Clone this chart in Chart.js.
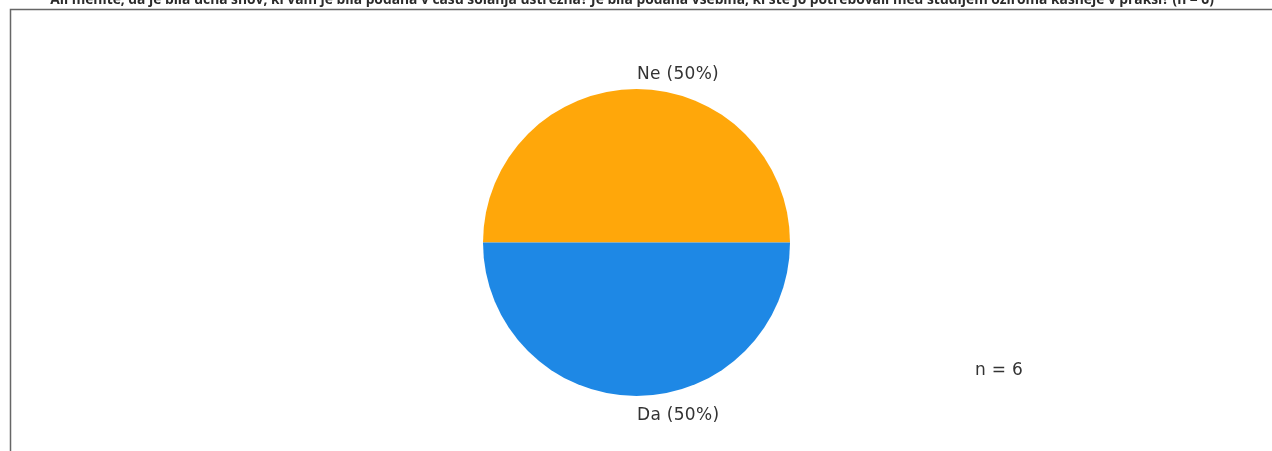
<!DOCTYPE html>
<html>
<head>
<meta charset="utf-8">
<script src="https://cdn.jsdelivr.net/npm/chart.js@4/dist/chart.umd.min.js"></script>
<style>
  html, body { margin: 0; padding: 0; background: #ffffff; }
  #wrap { position: relative; width: 1272px; height: 451px; }
</style>
</head>
<body>
<div id="wrap"><canvas id="c" width="1272" height="451"></canvas></div>
<script>
// Survey answers and their counts
const categories = ['Ne', 'Da'];
const counts = [3, 3];
const colors = ['#FFA70A', '#1E88E5'];
const respondents = 6;
const titleText = 'Ali menite, da je bila učna snov, ki vam je bila podana v času šolanja ustrezna? Je bila podana vsebina, ki ste jo potrebovali med študijem oziroma kasneje v praksi? (n = ' + respondents + ')';

const total = counts.reduce((a, b) => a + b, 0);
const sliceLabels = categories.map((c, i) => c + ' (' + Math.round(counts[i] / total * 100) + '%)');

// Frame, heading and slice labels drawn around the pie
const decorations = {
  id: 'decorations',
  beforeDraw(chart) {
    const ctx = chart.ctx;
    ctx.save();
    ctx.fillStyle = '#ffffff';
    ctx.fillRect(0, 0, chart.width, chart.height);
    ctx.strokeStyle = '#666666';
    ctx.lineWidth = 1.5;
    ctx.beginPath();
    ctx.moveTo(10.5, 451);
    ctx.lineTo(10.5, 9.5);
    ctx.lineTo(1272, 9.5);
    ctx.stroke();
    ctx.fillStyle = '#2b2b2b';
    ctx.font = 'bold 13.8px "Open Sans"';
    ctx.textAlign = 'center';
    ctx.textBaseline = 'alphabetic';
    ctx.fillText(titleText, 632, 4);
    ctx.restore();
  },
  afterDatasetsDraw(chart) {
    const ctx = chart.ctx;
    const meta = chart.getDatasetMeta(0);
    ctx.save();
    ctx.fillStyle = '#333333';
    ctx.font = '17px "DejaVu Sans", sans-serif';
    ctx.letterSpacing = '0.3px';
    ctx.textBaseline = 'middle';
    meta.data.forEach((arc, i) => {
      const mid = (arc.startAngle + arc.endAngle) / 2;
      const r = arc.outerRadius * 1.1;
      const x = arc.x + Math.cos(mid) * r;
      const y = arc.y + Math.sin(mid) * r;
      ctx.textAlign = 'left';
      ctx.fillText(sliceLabels[i], Math.round(x), y + (Math.sin(mid) > 0 ? 4 : 1));
    });
    ctx.textAlign = 'left';
    ctx.fillText('n = ' + respondents, 975, 371);
    ctx.restore();
  }
};

new Chart(document.getElementById('c'), {
  type: 'pie',
  data: {
    labels: categories,
    datasets: [{
      data: counts,
      backgroundColor: colors,
      borderWidth: 0,
      hoverOffset: 0,
      offset: 0
    }]
  },
  options: {
    responsive: false,
    animation: false,
    rotation: -90,
    layout: { padding: { top: 89, bottom: 55, left: 1, right: 0 } },
    plugins: {
      legend: { display: false },
      tooltip: { enabled: false },
      title: { display: false }
    },
    events: []
  },
  plugins: [decorations]
});
</script>
</body>
</html>
